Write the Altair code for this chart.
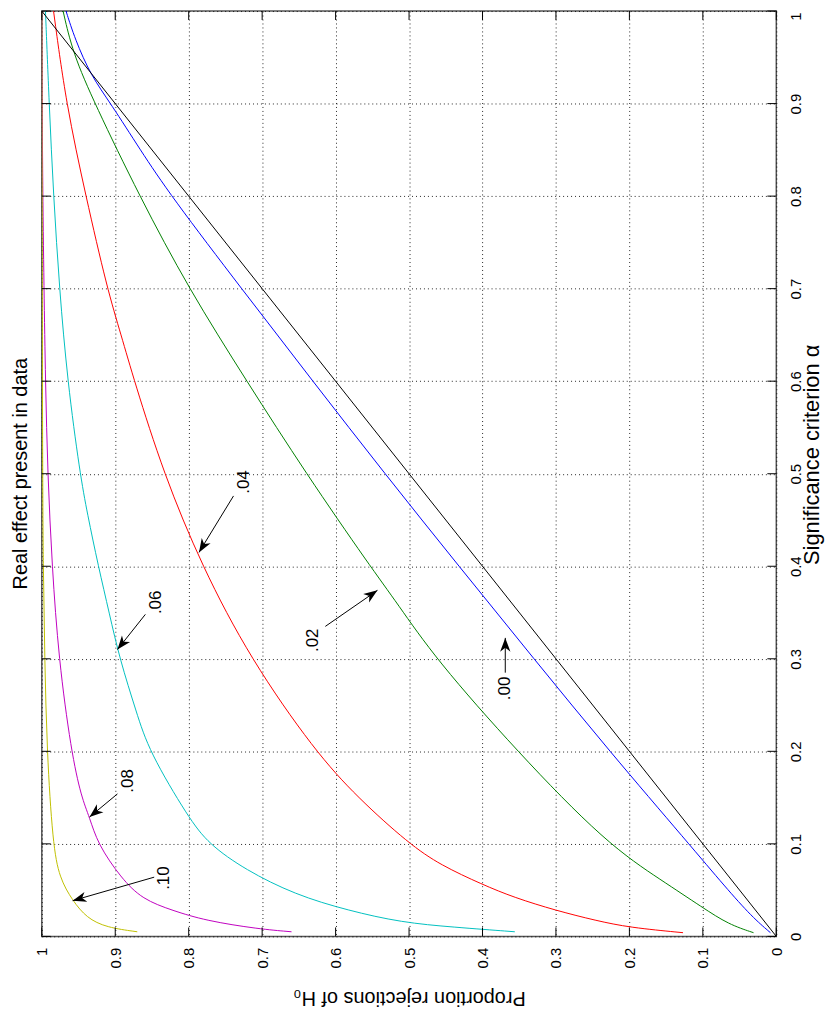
import math
import altair as alt
import pandas as pd

# ---------------- data ----------------
ticks = [0, 0.1, 0.2, 0.3, 0.4, 0.5, 0.6, 0.7, 0.8, 0.9, 1.0]

effects = ['.00', '.02', '.04', '.06', '.08', '.10']
colors = ['#0000ff', '#008000', '#ff0000', '#00bfbf', '#bf00bf', '#bfbf00']

alpha_00 = [0.004, 0.021, 0.053, 0.1, 0.2, 0.3, 0.4, 0.5, 0.6, 0.7, 0.8, 0.85, 0.9, 0.93, 0.97, 1.0]
p_00 = [0.008, 0.033, 0.069, 0.119, 0.227, 0.330, 0.432, 0.533, 0.631, 0.728, 0.824, 0.866, 0.906, 0.933, 0.955, 0.967]

alpha_02 = [0.004, 0.013, 0.031, 0.06, 0.1, 0.2, 0.3, 0.36, 0.4, 0.5, 0.6, 0.7, 0.8, 0.9, 0.955, 1.0]
p_02 = [0.031, 0.065, 0.100, 0.155, 0.231, 0.353, 0.464, 0.516, 0.553, 0.640, 0.721, 0.800, 0.867, 0.928, 0.958, 0.971]

alpha_04 = [0.004, 0.0096, 0.017, 0.028, 0.042, 0.056, 0.077, 0.1, 0.15, 0.2, 0.3, 0.4, 0.5, 0.6, 0.65, 0.7, 0.8, 0.9, 1.0]
p_04 = [0.127, 0.200, 0.245, 0.300, 0.357, 0.400, 0.457, 0.500, 0.570, 0.628, 0.716, 0.782, 0.834, 0.874, 0.892, 0.911, 0.940, 0.967, 0.984]

alpha_06 = [0.005, 0.01, 0.015, 0.028, 0.045, 0.072, 0.1, 0.128, 0.2, 0.242, 0.3, 0.349, 0.4, 0.457, 0.5, 0.6, 0.7, 0.8, 0.9, 1.0]
p_06 = [0.356, 0.440, 0.510, 0.583, 0.655, 0.723, 0.773, 0.800, 0.854, 0.871, 0.894, 0.908, 0.923, 0.938, 0.948, 0.965, 0.976, 0.984, 0.990, 0.995]

alpha_08 = [0.005, 0.008, 0.017, 0.028, 0.04, 0.063, 0.1, 0.129, 0.15, 0.2, 0.3, 0.4, 0.5, 0.6, 0.7, 0.82, 1.0]
p_08 = [0.660, 0.705, 0.777, 0.822, 0.863, 0.892, 0.924, 0.935, 0.946, 0.960, 0.977, 0.986, 0.992, 0.995, 0.997, 0.999, 1.0]

alpha_10 = [0.005, 0.0096, 0.02, 0.0386, 0.063, 0.1, 0.2, 0.3, 0.4, 0.5, 1.0]
p_10 = [0.870, 0.912, 0.939, 0.958, 0.976, 0.985, 0.993, 0.996, 0.998, 0.999, 1.0]

alpha_diag = [0.0, 1.0]
p_diag = [0.0, 1.0]

# annotations: label, text position, arrow tail, arrow head (proportion, alpha)
arrow_labels = ['.00', '.02', '.04', '.06', '.08', '.10']
label_p = [0.369, 0.631, 0.724, 0.845, 0.882, 0.834]
label_alpha = [0.268, 0.320, 0.491, 0.361, 0.168, 0.063]
tail_p = [0.369, 0.614, 0.739, 0.859, 0.897, 0.847]
tail_alpha = [0.285, 0.335, 0.476, 0.348, 0.154, 0.064]
head_p = [0.369, 0.543, 0.786, 0.897, 0.935, 0.958]
head_alpha = [0.3226, 0.374, 0.415, 0.310, 0.129, 0.0386]

# ---------------- build tables ----------------
W, H = 739, 931
FONT = 'Liberation Sans'

series = [
    ('.00', alpha_00, p_00), ('.02', alpha_02, p_02), ('.04', alpha_04, p_04),
    ('.06', alpha_06, p_06), ('.08', alpha_08, p_08), ('.10', alpha_10, p_10),
    ('diag', alpha_diag, p_diag),
]
rows = []
for name, al, pp in series:
    for a, p in zip(al, pp):
        rows.append({'effect': name, 'alpha': a, 'p': p})
curves = pd.DataFrame(rows)

arr = pd.DataFrame({
    'label': arrow_labels, 'lp': label_p, 'la': label_alpha,
    'tp': tail_p, 'ta': tail_alpha, 'hp': head_p, 'ha': head_alpha,
})


def head_angle(r):
    # rotation of the arrow head in screen space (x reversed, y up)
    dx = -(r.hp - r.tp) * W
    dy = -(r.ha - r.ta) * H
    return math.degrees(math.atan2(dx, -dy)) % 360


arr['ang'] = arr.apply(head_angle, axis=1)

tick_df = pd.DataFrame({'t': ticks})

x_scale = alt.Scale(domain=[0, 1], reverse=True, nice=False, zero=False)
y_scale = alt.Scale(domain=[0, 1], nice=False, zero=False)

grid_style = dict(grid=True, gridDash=[1, 3], gridColor='#000000', gridOpacity=0.85, gridWidth=1)

x_axis = alt.Axis(
    values=ticks, format='~g', labelAngle=270, labelAlign='right', labelBaseline='middle',
    labelPadding=11, ticks=False, domain=False, labelFont=FONT, labelFontSize=15,
    labelColor='black', labelOverlap=False, labelFlush=False,
    title='Proportion rejections of H₀', titleAngle=180, titleX=W / 2, titleY=61,
    titleAlign='center', titleBaseline='middle', titleFont=FONT, titleFontSize=20,
    titleFontWeight='normal', titleColor='black', **grid_style)

y_axis = alt.Axis(
    orient='right', values=ticks, format='~g', labelAngle=270, labelAlign='center',
    labelBaseline='top', labelPadding=12, ticks=False, domain=False, labelFont=FONT,
    labelFontSize=15, labelColor='black', labelOverlap=False, labelFlush=False,
    labelOffset={'condition': {'test': 'datum.value >= 1', 'value': 5}, 'value': 0},
    title='Significance criterion α', titleAngle=270, titleX=35, titleY=446,
    titleAlign='center', titleBaseline='middle', titleFont=FONT, titleFontSize=22,
    titleFontWeight='normal', titleColor='black', **grid_style)


def X(field):
    return alt.X(field, scale=x_scale, axis=x_axis)


def Y(field):
    return alt.Y(field, scale=y_scale, axis=y_axis)


lines = alt.Chart(curves).mark_line(strokeWidth=1, clip=True, interpolate='basis').encode(
    x=X('p:Q'),
    y=Y('alpha:Q'),
    color=alt.Color('effect:N', scale=alt.Scale(domain=effects + ['diag'],
                                                range=colors + ['#000000']), legend=None),
    order=alt.Order('alpha:Q'),
)

tick_base = alt.Chart(tick_df).mark_rule(color='#000000', strokeWidth=1)
bottom_ticks = tick_base.encode(x=X('t:Q'), y=alt.value(H), y2=alt.value(H - 9))
top_ticks = tick_base.encode(x=X('t:Q'), y=alt.value(0), y2=alt.value(9))
left_ticks = tick_base.encode(y=Y('t:Q'), x=alt.value(0), x2=alt.value(9))
right_ticks = tick_base.encode(y=Y('t:Q'), x=alt.value(W), x2=alt.value(W - 9))

arrow_lines = alt.Chart(arr).mark_rule(color='#000000', strokeWidth=1).encode(
    x=X('tp:Q'), y=Y('ta:Q'), x2='hp:Q', y2='ha:Q')

ARROW = 'M0,0 L0.6,1.6 L0,1.15 L-0.6,1.6 Z'
arrow_heads = alt.Chart(arr).mark_point(
    shape=ARROW, filled=True, color='#000000', size=300, opacity=1, strokeWidth=0
).encode(x=X('hp:Q'), y=Y('ha:Q'), angle=alt.Angle('ang:Q', scale=None))

arrow_text = alt.Chart(arr).mark_text(
    angle=270, font=FONT, fontSize=17, color='#000000', align='center', baseline='middle'
).encode(x=X('lp:Q'), y=Y('la:Q'), text='label:N')

chart = alt.layer(
    lines, bottom_ticks, top_ticks, left_ticks, right_ticks, arrow_lines, arrow_heads, arrow_text
).properties(
    width=W, height=H,
    title=alt.TitleParams('Real effect present in data', orient='left', anchor='middle',
                          offset=4, font=FONT, fontSize=20, fontWeight='normal',
                          color='#000000'),
    autosize=alt.AutoSizeParams(type='none'),
    padding={'left': 34, 'top': 0, 'right': 50, 'bottom': 73},
).configure_view(stroke='#555555', strokeWidth=1.5)

chart.save('out.html', embed_options={'renderer': 'svg', 'actions': False})
